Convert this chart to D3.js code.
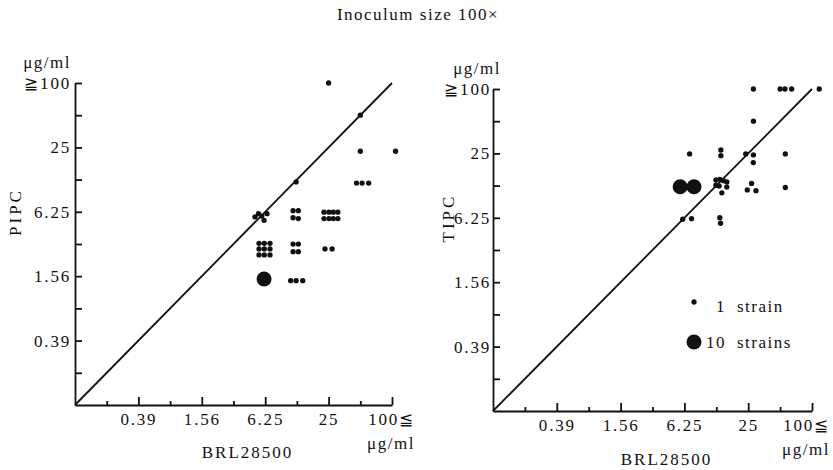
<!DOCTYPE html>
<html>
<head>
<meta charset="utf-8">
<script src="https://cdn.jsdelivr.net/npm/d3@7"></script>
<style>
  body { margin: 0; background: #fff; }
  svg text { font-family: "Liberation Serif", "DejaVu Serif", serif; fill: #111; }
  .axis path, .axis line { stroke: #111; stroke-width: 1.8; }
  .axis .tick text { font-size: 17px; letter-spacing: 1.8px; }
  .label { font-size: 17px; letter-spacing: 1.5px; }
</style>
</head>
<body>
<div id="chart"></div>
<script>
// MIC values in ug/ml, log4 dilution steps
const minMIC = 0.09765625;
const majorTicks = [0.390625, 1.5625, 6.25, 25, 100];
const minorTicks = [0.1953125, 0.78125, 3.125, 12.5, 50];
const xTickLabels = ["0.39", "1.56", "6.25", "25", "100≦"];
const yTickLabels = ["0.39", "1.56", "6.25", "25", "≧100"];
const diagonal = [[minMIC, minMIC], [100, 100]];

const title = "Inoculum size 100×";
const unit = "μg/ml";
const xName = "BRL28500";

// each dot: [BRL28500 MIC, comparator MIC] (with cluster spread)
const pipcOne = [
  [25, 100], [50, 50], [50, 23], [108, 23],
  [46, 11.6], [52, 11.6], [60, 11.6],
  [12.3, 11.9],
  [5.0, 5.6], [5.4, 6.0], [6.5, 6.0], [6.1, 5.2], [5.8, 5.7],
  [11.5, 6.4], [12.9, 6.4], [11.5, 5.5], [12.9, 5.4],
  [22.6, 6.2], [25.2, 6.2], [27.7, 6.2], [30.6, 6.2],
  [22.6, 5.4], [25.2, 5.4], [27.7, 5.4], [30.6, 5.4],
  [5.46, 3.17], [6.13, 3.17], [6.94, 3.17],
  [5.46, 2.81], [6.13, 2.81], [6.94, 2.81],
  [5.46, 2.47], [6.13, 2.47], [6.94, 2.47],
  [11.5, 3.12], [12.9, 3.12], [11.5, 2.65], [12.9, 2.65],
  [23.1, 2.81], [27.0, 2.81],
  [10.9, 1.42], [12.3, 1.42], [14.2, 1.42]
];
const pipcTen = [[6.1, 1.47]];

const tipcOne = [
  [28, 100], [50, 100], [55.6, 100], [64.3, 100], [117, 100],
  [28, 50],
  [7.0, 24.7], [13.8, 26.9], [13.8, 23.8],
  [23.7, 24.7], [28, 24.2], [27.9, 20.5],
  [56, 24.7], [56, 12],
  [26.9, 13.1], [24.5, 11.4], [29.6, 11.2],
  [12.4, 14.1], [13.5, 14.3], [14.6, 13.9], [12.4, 12.6],
  [13.3, 12.4], [15.7, 13.5], [15.7, 12.1], [14.1, 10.7],
  [6.02, 6.06], [7.3, 6.13],
  [13.5, 6.27], [13.7, 5.56]
];
const tipcTen = [[5.7, 12.2], [7.7, 12.2]];

const legendCounts = [1, 10];
const legendNums = ["1", "10"];
const legendWords = ["strain", "strains"];

const W = 833, H = 470;
const svg = d3.select("#chart").append("svg")
  .attr("width", W).attr("height", H);

// dot radius by number of strains
const rScale = d3.scalePow().exponent(0.45).domain([0, 10]).range([0, 7.5]);

svg.append("text")
  .attr("class", "label")
  .attr("x", 418).attr("y", 20)
  .attr("text-anchor", "middle")
  .text(title);

function drawPanel(cfg) {
  const x = d3.scaleLog().base(4).domain([minMIC, 100]).range([cfg.x0, cfg.x1]);
  const y = d3.scaleLog().base(4).domain([minMIC, 100]).range([cfg.y0, cfg.y1]);
  const g = svg.append("g");

  // major + minor ticks, all pointing inward
  g.append("g").attr("class", "axis")
    .attr("transform", "translate(0," + cfg.y0 + ")")
    .call(d3.axisBottom(x).tickValues(majorTicks)
      .tickFormat((d, i) => xTickLabels[i])
      .tickSizeInner(-8).tickSizeOuter(0).tickPadding(8))
    .selectAll(".tick text")
    .attr("dx", (d, i) => i === majorTicks.length - 1 ? cfg.lastDx : 0);
  g.append("g").attr("class", "axis")
    .attr("transform", "translate(0," + cfg.y0 + ")")
    .call(d3.axisBottom(x).tickValues(minorTicks).tickFormat(() => "")
      .tickSizeInner(-4).tickSizeOuter(0))
    .select(".domain").remove();

  g.append("g").attr("class", "axis")
    .attr("transform", "translate(" + cfg.x0 + ",0)")
    .call(d3.axisLeft(y).tickValues(majorTicks)
      .tickFormat((d, i) => yTickLabels[i])
      .tickSizeInner(-7).tickSizeOuter(0).tickPadding(cfg.yPad));
  g.append("g").attr("class", "axis")
    .attr("transform", "translate(" + cfg.x0 + ",0)")
    .call(d3.axisLeft(y).tickValues(minorTicks).tickFormat(() => "")
      .tickSizeInner(-7).tickSizeOuter(0))
    .select(".domain").remove();

  g.selectAll(".axis text").style("fill", "#111");

  g.append("path")
    .datum(diagonal)
    .attr("d", d3.line().x(d => x(d[0])).y(d => y(d[1])))
    .attr("fill", "none").attr("stroke", "#111").attr("stroke-width", 1.8);

  const dots = cfg.one.map(d => ({ v: d, n: 1 }))
    .concat(cfg.ten.map(d => ({ v: d, n: 10 })));
  g.selectAll("circle.dot").data(dots).join("circle")
    .attr("class", "dot")
    .attr("cx", d => x(d.v[0]))
    .attr("cy", d => y(d.v[1]))
    .attr("r", d => rScale(d.n))
    .attr("fill", "#111");

  // units and axis names
  g.append("text").attr("class", "label")
    .attr("x", x(100) + cfg.lastDx).attr("y", cfg.y0 + 44)
    .attr("text-anchor", "middle").text(unit);
  g.append("text").attr("class", "label")
    .attr("x", cfg.yUnitX).attr("y", cfg.y1 - 15)
    .attr("text-anchor", "end").text(unit);
  g.append("text").attr("class", "label")
    .style("letter-spacing", "2px")
    .attr("x", (cfg.x0 + cfg.x1) / 2 + 14).attr("y", cfg.y0 + cfg.xNameDy)
    .attr("text-anchor", "middle").text(xName);
  g.append("text").attr("class", "label")
    .style("letter-spacing", "3px")
    .attr("transform", "translate(" + cfg.yNameX + "," + ((cfg.y0 + cfg.y1) / 2 - 32) + ") rotate(-90)")
    .attr("text-anchor", "middle")
    .attr("dy", "0.35em")
    .text(cfg.yName);

  return { x, y, g };
}

drawPanel({ x0: 75, x1: 392, y0: 405, y1: 83, one: pipcOne, ten: pipcTen,
  yName: "PIPC", yNameX: 15, xNameDy: 53, yPad: 4, yUnitX: 71, lastDx: -1 });
const right = drawPanel({ x0: 493, x1: 812, y0: 411, y1: 89, one: tipcOne, ten: tipcTen,
  yName: "TIPC", yNameX: 448, xNameDy: 54, yPad: 2, yUnitX: 501, lastDx: -6 });

// legend (right panel)
const legendY = [302, 342];
const leg = right.g.selectAll("g.leg").data(legendCounts).join("g")
  .attr("class", "leg")
  .attr("transform", (d, i) => "translate(0," + legendY[i] + ")");
leg.append("circle")
  .attr("cx", 694).attr("cy", 0)
  .attr("r", d => rScale(d)).attr("fill", "#111");
leg.append("text").attr("class", "label")
  .attr("x", 726).attr("y", (d, i) => i === 0 ? 10 : 6).attr("text-anchor", "end")
  .text((d, i) => legendNums[i]);
leg.append("text").attr("class", "label")
  .attr("x", 737).attr("y", (d, i) => i === 0 ? 10 : 6)
  .text((d, i) => legendWords[i]);
</script>
</body>
</html>
